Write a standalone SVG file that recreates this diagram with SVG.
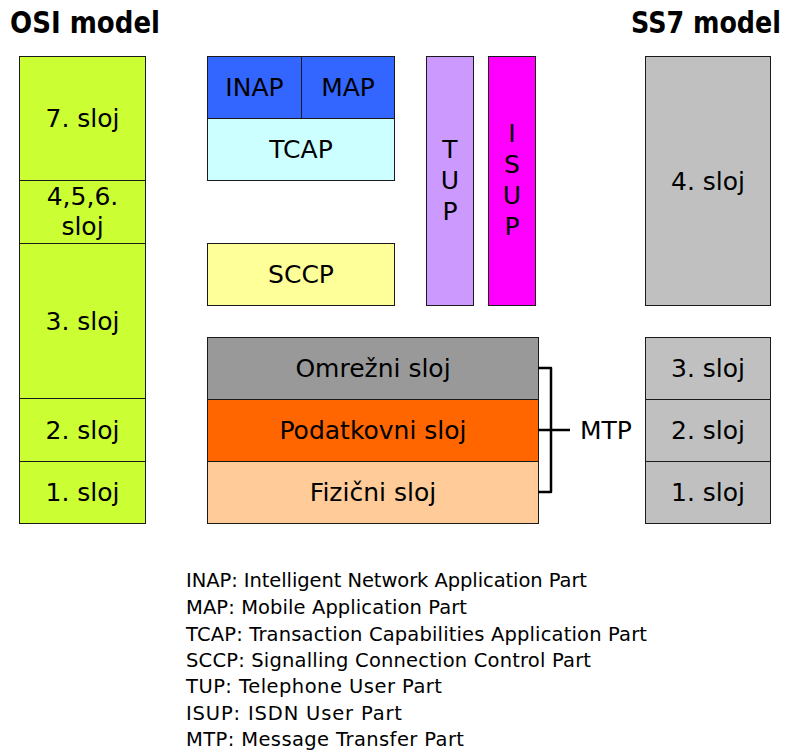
<svg xmlns="http://www.w3.org/2000/svg" width="788" height="751" viewBox="0 0 788 751">
  <style>
    .box { stroke: #1a1a1a; stroke-width: 1; }
    .lbl { font-family: "DejaVu Sans", sans-serif; font-size: 25px; fill: #000; text-anchor: middle; }
    .title { font-family: "DejaVu Sans", sans-serif; font-size: 30px; font-weight: bold; fill: #000; }
    .legend { font-family: "DejaVu Sans", sans-serif; font-size: 19.5px; fill: #000; }
    .bracket { fill: none; stroke: #000; stroke-width: 2.5; stroke-linejoin: round; }
  </style>
  <rect width="788" height="751" fill="#fff"/>

  <!-- Titles -->
  <text class="title" x="10" y="33" textLength="150" lengthAdjust="spacingAndGlyphs">OSI model</text>
  <text class="title" x="631" y="33" textLength="150" lengthAdjust="spacingAndGlyphs">SS7 model</text>

  <!-- OSI column -->
  <g id="osi7">
    <rect class="box" x="19.5" y="56.5" width="126" height="124" fill="#ccff33"/>
    <text class="lbl" x="82.5" y="127">7. sloj</text>
  </g>
  <g id="osi456">
    <rect class="box" x="19.5" y="180.5" width="126" height="63" fill="#ccff33"/>
    <text class="lbl" x="82.5" y="205">4,5,6.</text>
    <text class="lbl" x="82.5" y="235">sloj</text>
  </g>
  <g id="osi3">
    <rect class="box" x="19.5" y="243.5" width="126" height="155" fill="#ccff33"/>
    <text class="lbl" x="82.5" y="330">3. sloj</text>
  </g>
  <g id="osi2">
    <rect class="box" x="19.5" y="398.5" width="126" height="63" fill="#ccff33"/>
    <text class="lbl" x="82.5" y="439">2. sloj</text>
  </g>
  <g id="osi1">
    <rect class="box" x="19.5" y="461.5" width="126" height="62" fill="#ccff33"/>
    <text class="lbl" x="82.5" y="501">1. sloj</text>
  </g>

  <!-- SS7 stack -->
  <g id="inap">
    <rect class="box" x="207.5" y="56.5" width="94" height="62" fill="#3366ff"/>
    <text class="lbl" x="254.5" y="96">INAP</text>
  </g>
  <g id="map">
    <rect class="box" x="301.5" y="56.5" width="93" height="62" fill="#3366ff"/>
    <text class="lbl" x="348" y="96">MAP</text>
  </g>
  <g id="tcap">
    <rect class="box" x="207.5" y="118.5" width="187" height="62" fill="#ccffff"/>
    <text class="lbl" x="301" y="158">TCAP</text>
  </g>
  <g id="sccp">
    <rect class="box" x="207.5" y="243.5" width="187" height="62" fill="#ffff99"/>
    <text class="lbl" x="301" y="283">SCCP</text>
  </g>
  <g id="tup">
    <rect class="box" x="426.5" y="56.5" width="47" height="249" fill="#cc99ff"/>
    <text class="lbl" x="450" y="158">T</text>
    <text class="lbl" x="450" y="189">U</text>
    <text class="lbl" x="450" y="220">P</text>
  </g>
  <g id="isup">
    <rect class="box" x="488.5" y="56.5" width="47" height="249" fill="#ff00ff"/>
    <text class="lbl" x="512" y="142">I</text>
    <text class="lbl" x="512" y="173">S</text>
    <text class="lbl" x="512" y="204">U</text>
    <text class="lbl" x="512" y="235">P</text>
  </g>
  <g id="omrezni">
    <rect class="box" x="207.5" y="337.5" width="331" height="62" fill="#999999"/>
    <text class="lbl" x="373" y="377">Omrežni sloj</text>
  </g>
  <g id="podatkovni">
    <rect class="box" x="207.5" y="399.5" width="331" height="62" fill="#ff6600"/>
    <text class="lbl" x="373" y="439">Podatkovni sloj</text>
  </g>
  <g id="fizicni">
    <rect class="box" x="207.5" y="461.5" width="331" height="62" fill="#ffcc99"/>
    <text class="lbl" x="373" y="501">Fizični sloj</text>
  </g>

  <!-- SS7 model column -->
  <g id="ss7-4">
    <rect class="box" x="645.5" y="56.5" width="125" height="249" fill="#c0c0c0"/>
    <text class="lbl" x="708" y="190">4. sloj</text>
  </g>
  <g id="ss7-3">
    <rect class="box" x="645.5" y="337.5" width="125" height="62" fill="#c0c0c0"/>
    <text class="lbl" x="708" y="377">3. sloj</text>
  </g>
  <g id="ss7-2">
    <rect class="box" x="645.5" y="399.5" width="125" height="62" fill="#c0c0c0"/>
    <text class="lbl" x="708" y="439">2. sloj</text>
  </g>
  <g id="ss7-1">
    <rect class="box" x="645.5" y="461.5" width="125" height="62" fill="#c0c0c0"/>
    <text class="lbl" x="708" y="501">1. sloj</text>
  </g>

  <!-- MTP bracket -->
  <g id="connectors">
    <path class="bracket" d="M538 368 H551 V492 H538"/>
    <path class="bracket" d="M538 430 H570"/>
  </g>
  <g id="mtp">
    <text class="lbl" x="580" y="439" style="text-anchor:start">MTP</text>
  </g>

  <!-- Abbreviation legend -->
  <g id="legend" class="legend">
    <text x="186" y="587" textLength="401" lengthAdjust="spacing">INAP: Intelligent Network Application Part</text>
    <text x="186" y="614" textLength="281" lengthAdjust="spacing">MAP: Mobile Application Part</text>
    <text x="186" y="641" textLength="461" lengthAdjust="spacing">TCAP: Transaction Capabilities Application Part</text>
    <text x="186" y="667" textLength="405" lengthAdjust="spacing">SCCP: Signalling Connection Control Part</text>
    <text x="186" y="693" textLength="256" lengthAdjust="spacing">TUP: Telephone User Part</text>
    <text x="186" y="720" textLength="216" lengthAdjust="spacing">ISUP: ISDN User Part</text>
    <text x="186" y="746" textLength="278" lengthAdjust="spacing">MTP: Message Transfer Part</text>
  </g>
</svg>
